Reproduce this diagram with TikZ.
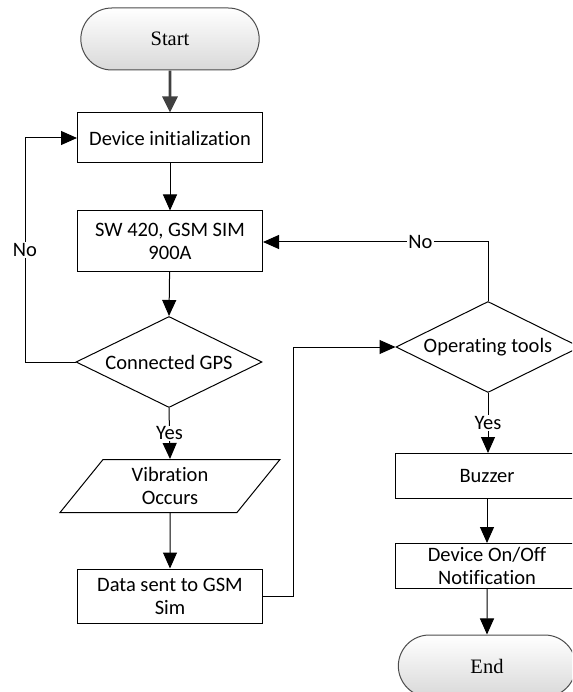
\documentclass[tikz,border=0pt]{standalone}
\usepackage{fontspec}
\setmainfont{Liberation Serif}
\newfontfamily\calib[Ligatures={NoCommon}]{Carlito}
\usetikzlibrary{shapes.geometric,shapes.misc,arrows.meta}
\begin{document}
\begin{tikzpicture}[x=1pt,y=-1pt,line width=1pt,
  arr/.style={draw=black,-{Triangle[length=16pt,width=14pt]}},
  box/.style={draw, rectangle, font=\calib\fontsize{20.5}{23}\selectfont, align=center, inner sep=2pt, minimum width=185pt},
  dec/.style={draw, diamond, aspect=2.03, minimum width=186pt, minimum height=91pt, inner sep=0pt, font=\calib\fontsize{20.5}{23}\selectfont},
  term/.style={draw=black!70, rounded rectangle, minimum width=185pt, minimum height=62pt, top color=white, bottom color=black!15, font=\fontsize{20.5}{24}\selectfont},
  lab/.style={fill=white, inner sep=1pt, font=\calib\fontsize{20.5}{23}\selectfont}]
\useasboundingbox (0,0) rectangle (572,692);
\clip (0,0) rectangle (572,692);
% nodes
\node[term] (start) at (170,39) {Start};
\node[box, minimum height=50pt] (init) at (170,138) {Device initialization};
\node[box, minimum height=60pt] (sw) at (170,241) {SW 420, GSM SIM\\900A};
\node[dec] (gps) at (169,362) {Connected GPS};
\node[draw, trapezium, trapezium left angle=58, trapezium right angle=122, trapezium stretches=true, minimum width=220pt, minimum height=53pt, inner sep=2pt, align=center, font=\calib\fontsize{20.5}{23}\selectfont] (vib) at (170,486) {Vibration\\Occurs};
\node[box, minimum height=54pt] (data) at (170,596) {Data sent to GSM\\Sim};
\node[dec, minimum width=184pt] (ops) at (488,347) {Operating tools};
\node[box, minimum width=184pt, minimum height=45pt] (buzz) at (487,476) {Buzzer};
\node[box, minimum width=184pt, minimum height=45pt] (notif) at (487,566) {Device On/Off\\Notification};
\node[term, minimum width=184pt] (end) at (487,666) {End};
\coordinate (c1) at (25,362);
\coordinate (c2) at (25,138);
\coordinate (c3) at (293,596);
\coordinate (c4) at (293,347);
\coordinate (c5) at (488,242);
% connectors
\draw[draw=black!75, line width=2.8pt, -{Triangle[length=16pt,width=15pt]}] (start) -- (init);
\draw[arr] (init) -- (sw);
\draw[arr] (sw) -- (gps.north);
\draw[arr] (gps.west) -- (c1) -- node[lab]{No} (c2) -- (init.west);
\draw[arr] (gps.south) -- node[lab]{Yes} (vib.north);
\draw[arr] (vib.south) -- (data.north);
\draw[arr] (data.east) -- (c3) -- (c4) -- (ops.west);
\draw[arr] (ops.north) -- (c5) -- node[lab, pos=0.3]{No} (sw.east |- c5);
\draw[arr] (ops.south) -- node[lab]{Yes} (buzz.north -| ops.south);
\draw[arr] (buzz) -- (notif);
\draw[arr] (notif) -- (end);
\end{tikzpicture}
\end{document}
